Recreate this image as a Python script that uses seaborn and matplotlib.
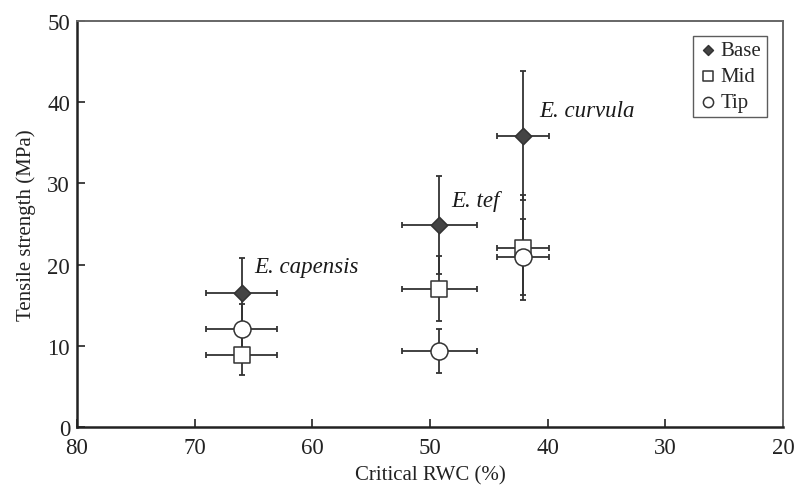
import numpy as np
import pandas as pd
import matplotlib
matplotlib.use("Agg")
import matplotlib.pyplot as plt
import seaborn as sns

# -----------------------------------------------------
# data
# -----------------------------------------------------
species = ["E. capensis", "E. tef", "E. curvula"]
parts = ["Base", "Mid", "Tip"]

rwc = [66.0, 49.2, 42.1]
rwc_err = [3.0, 3.2, 2.2]

base_ts = [16.5, 24.9, 35.9]
base_err = [4.3, 6.0, 7.9]
mid_ts = [8.9, 17.0, 22.1]
mid_err = [2.5, 4.0, 6.5]
tip_ts = [12.1, 9.4, 20.9]
tip_err = [3.0, 2.7, 4.7]

label_x = [64.9, 48.2, 40.7]
label_y = [19.8, 27.9, 39.0]

rows = []
for part, ts, err in zip(parts, [base_ts, mid_ts, tip_ts], [base_err, mid_err, tip_err]):
    for sp, x, xe, y, ye in zip(species, rwc, rwc_err, ts, err):
        rows.append({"species": sp, "part": part, "rwc": x, "rwc_err": xe,
                     "ts": y, "ts_err": ye})
df = pd.DataFrame(rows)

# -----------------------------------------------------
# plot
# -----------------------------------------------------
sns.set_style("ticks")
plt.rcParams["font.family"] = ["Liberation Serif", "DejaVu Serif"]

fig = plt.figure(figsize=(7.97, 4.89), dpi=100)
ax = fig.add_axes([0.0966, 0.1247, 0.8858, 0.8303])

line_col = "#333333"
markers = {"Base": "D", "Mid": "s", "Tip": "o"}
faces = {"Base": "#444444", "Mid": "white", "Tip": "white"}
sizes = {"Base": 70, "Mid": 120, "Tip": 150}

# error bars first, markers on top
for part in parts:
    d = df[df["part"] == part]
    ax.errorbar(d["rwc"], d["ts"], xerr=d["rwc_err"], yerr=d["ts_err"],
                fmt="none", ecolor=line_col, elinewidth=1.3,
                capsize=2.5, capthick=1.3, zorder=2)

for part in parts:
    d = df[df["part"] == part]
    sns.scatterplot(data=d, x="rwc", y="ts", marker=markers[part], s=sizes[part],
                    color=faces[part], edgecolor=line_col, linewidth=1.1,
                    label=part, ax=ax, zorder=3)

for sp, x, y in zip(species, label_x, label_y):
    ax.text(x, y, sp, style="italic", fontsize=16.5, ha="left", va="center",
            color="#1a1a1a")

ax.set_xlim(80, 20)
ax.set_ylim(0, 50)
ax.set_xticks([80, 70, 60, 50, 40, 30, 20])
ax.set_yticks([0, 10, 20, 30, 40, 50])
ax.set_xlabel("Critical RWC (%)", fontsize=15, color="#222222")
ax.set_ylabel("Tensile strength (MPa)", fontsize=15, color="#222222")
ax.xaxis.set_label_coords(0.5, -0.093)
ax.yaxis.set_label_coords(-0.058, 0.5)
ax.tick_params(direction="in", length=6, width=1.2, labelsize=16.5,
               colors="#222222", top=False, right=False)
ax.tick_params(axis="x", pad=7)
ax.tick_params(axis="y", pad=5)

for side in ["left", "bottom"]:
    ax.spines[side].set_linewidth(1.8)
    ax.spines[side].set_color("#222222")
for side in ["top", "right"]:
    ax.spines[side].set_visible(True)
    ax.spines[side].set_linewidth(1.4)
    ax.spines[side].set_color("#666666")

leg = ax.legend(loc="upper right", bbox_to_anchor=(0.977, 0.964), fontsize=15,
                frameon=True, fancybox=False, edgecolor="#333333",
                handletextpad=0.1, handlelength=1.0, borderpad=0.25,
                labelspacing=0.3, markerscale=0.6, borderaxespad=0)
leg.get_frame().set_linewidth(1.0)

fig.savefig("out.png", dpi=100)
